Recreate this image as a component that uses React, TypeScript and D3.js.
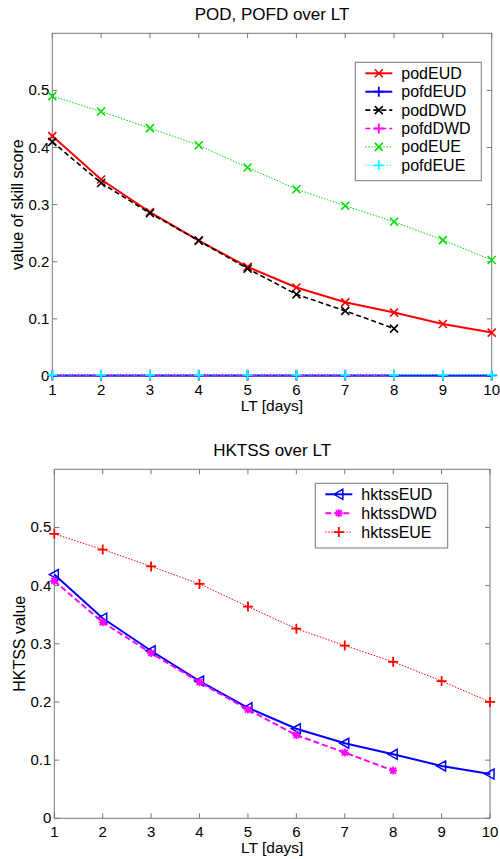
import * as d3 from 'd3';

// Lead times (days)
const leadTimes = [1, 2, 3, 4, 5, 6, 7, 8, 9, 10];
const leadTimesDwd = [1, 2, 3, 4, 5, 6, 7, 8];
const yTicks = [0, 0.1, 0.2, 0.3, 0.4, 0.5];

// Top panel: POD, POFD
const podEUD = [0.42, 0.344, 0.287, 0.237, 0.191, 0.155, 0.129, 0.111, 0.091, 0.076];
const pofdEUD = [0.001, 0.001, 0.001, 0.001, 0.001, 0.001, 0.001, 0.001, 0.001, 0.001];
const podDWD = [0.41, 0.338, 0.285, 0.237, 0.188, 0.143, 0.114, 0.083];
const pofdDWD = [0.002, 0.002, 0.002, 0.002, 0.002, 0.002, 0.002, 0.002];
const podEUE = [0.49, 0.463, 0.434, 0.404, 0.365, 0.327, 0.298, 0.27, 0.238, 0.203];
const pofdEUE = [0.002, 0.002, 0.002, 0.002, 0.002, 0.002, 0.002, 0.002, 0.002, 0.002];

// Bottom panel: HKTSS
const hktssEUD = [0.419, 0.344, 0.288, 0.236, 0.19, 0.154, 0.129, 0.11, 0.09, 0.076];
const hktssDWD = [0.408, 0.337, 0.284, 0.234, 0.187, 0.143, 0.113, 0.082];
const hktssEUE = [0.489, 0.462, 0.433, 0.403, 0.364, 0.326, 0.297, 0.269, 0.236, 0.2];

type Marker = 'x' | '+' | '*' | '<';

type Series = {
  name: string;
  x: number[];
  y: number[];
  color: string;
  width: number;
  dash?: string;
  marker: Marker;
};

const FONT = 'Liberation Sans, Arial, sans-serif';

function MarkerShape({ type, cx, cy, color }: { type: Marker; cx: number; cy: number; color: string }) {
  const s = 4;
  if (type === 'x') {
    return (
      <path d={`M${cx - s},${cy - s}L${cx + s},${cy + s}M${cx - s},${cy + s}L${cx + s},${cy - s}`}
        stroke={color} strokeWidth={1.6} fill="none" />
    );
  }
  if (type === '+') {
    return (
      <path d={`M${cx - 5},${cy}L${cx + 5},${cy}M${cx},${cy - 5}L${cx},${cy + 5}`}
        stroke={color} strokeWidth={1.8} fill="none" />
    );
  }
  if (type === '*') {
    return (
      <path d={`M${cx - s},${cy}L${cx + s},${cy}M${cx},${cy - s}L${cx},${cy + s}M${cx - 3},${cy - 3}L${cx + 3},${cy + 3}M${cx - 3},${cy + 3}L${cx + 3},${cy - 3}`}
        stroke={color} strokeWidth={1.8} fill="none" />
    );
  }
  return (
    <path d={`M${cx - 5},${cy}L${cx + 4},${cy - 5}L${cx + 4},${cy + 5}Z`}
      stroke={color} strokeWidth={1.5} fill="none" />
  );
}

type PanelProps = {
  title: string;
  yLabel: string;
  top: number;
  bottom: number;
  left: number;
  right: number;
  series: Series[];
  legend: { x: number; y: number; w: number; row: number };
};

function Panel({ title, yLabel, top, bottom, left, right, series, legend }: PanelProps) {
  const xScale = d3.scaleLinear().domain([1, 10]).range([left, right]);
  const yScale = d3.scaleLinear().domain([0, 0.6]).range([bottom, top]);
  const line = d3.line<[number, number]>().x(d => xScale(d[0])).y(d => yScale(d[1]));
  const tick = 5;
  const legendH = series.length * legend.row + 8;

  return (
    <g fontFamily={FONT} fill="#000">
      <text x={(left + right) / 2} y={top - 13} textAnchor="middle" fontSize={17}>{title}</text>
      <rect x={left} y={top} width={right - left} height={bottom - top} fill="#fff" stroke="#777" strokeWidth={1} />

      {/* x ticks */}
      {leadTimes.map(t => (
        <g key={`x${t}`}>
          <line x1={xScale(t)} x2={xScale(t)} y1={bottom} y2={bottom - tick} stroke="#777" />
          <line x1={xScale(t)} x2={xScale(t)} y1={top} y2={top + tick} stroke="#777" />
          <text x={xScale(t)} y={bottom + 19} textAnchor="middle" fontSize={15}>{t}</text>
        </g>
      ))}
      <text x={(left + right) / 2} y={bottom + 35} textAnchor="middle" fontSize={15.5}>LT [days]</text>

      {/* y ticks */}
      {yTicks.map(v => (
        <g key={`y${v}`}>
          <line x1={left} x2={left + tick} y1={yScale(v)} y2={yScale(v)} stroke="#777" />
          <line x1={right} x2={right - tick} y1={yScale(v)} y2={yScale(v)} stroke="#777" />
          <text x={left - 3} y={yScale(v) + 5} textAnchor="end" fontSize={15}>{v === 0 ? '0' : v.toFixed(1)}</text>
        </g>
      ))}
      <text transform={`translate(${left - 29},${(top + bottom) / 2}) rotate(-90)`} textAnchor="middle" fontSize={16}>{yLabel}</text>

      {/* series */}
      {series.map(s => {
        const pts = s.x.map((x, i) => [x, s.y[i]] as [number, number]);
        return (
          <g key={s.name}>
            <path d={line(pts) ?? ''} fill="none" stroke={s.color} strokeWidth={s.width} strokeDasharray={s.dash} />
            {pts.map(p => (
              <MarkerShape key={p[0]} type={s.marker} cx={xScale(p[0])} cy={yScale(p[1])} color={s.color} />
            ))}
          </g>
        );
      })}

      {/* legend */}
      <rect x={legend.x} y={legend.y} width={legend.w} height={legendH} fill="#fff" stroke="#777" />
      {series.map((s, i) => {
        const cy = legend.y + 11 + i * legend.row;
        return (
          <g key={`l${s.name}`}>
            <line x1={legend.x + 10} x2={legend.x + 37} y1={cy} y2={cy} stroke={s.color} strokeWidth={s.width} strokeDasharray={s.dash} />
            <MarkerShape type={s.marker} cx={legend.x + 23.5} cy={cy} color={s.color} />
            <text x={legend.x + 46} y={cy + 5.5} fontSize={16}>{s.name}</text>
          </g>
        );
      })}
    </g>
  );
}

const topSeries: Series[] = [
  { name: 'podEUD', x: leadTimes, y: podEUD, color: '#ff0000', width: 2, marker: 'x' },
  { name: 'pofdEUD', x: leadTimes, y: pofdEUD, color: '#0000ff', width: 2, marker: '+' },
  { name: 'podDWD', x: leadTimesDwd, y: podDWD, color: '#000000', width: 1.6, dash: '5,3', marker: 'x' },
  { name: 'pofdDWD', x: leadTimesDwd, y: pofdDWD, color: '#ff00ff', width: 1.6, dash: '5,3', marker: '+' },
  { name: 'podEUE', x: leadTimes, y: podEUE, color: '#00dd00', width: 1, dash: '1.5,1.5', marker: 'x' },
  { name: 'pofdEUE', x: leadTimes, y: pofdEUE, color: '#00ffff', width: 1, dash: '1.5,1.5', marker: '+' },
];

const bottomSeries: Series[] = [
  { name: 'hktssEUD', x: leadTimes, y: hktssEUD, color: '#0000ff', width: 2, marker: '<' },
  { name: 'hktssDWD', x: leadTimesDwd, y: hktssDWD, color: '#ff00ff', width: 2, dash: '6,3', marker: '*' },
  { name: 'hktssEUE', x: leadTimes, y: hktssEUE, color: '#ff0000', width: 1, dash: '1.5,1.5', marker: '+' },
];

export default function App() {
  return (
    <svg width={500} height={859} style={{ position: 'absolute', left: 0, top: 0, background: '#fff' }}>
      <rect width={500} height={859} fill="#fff" />
      <Panel
        title="POD, POFD over LT"
        yLabel="value of skill score"
        top={33.3}
        bottom={376}
        left={52.3}
        right={491.7}
        series={topSeries}
        legend={{ x: 355.3, y: 62.3, w: 126, row: 18.4 }}
      />
      <Panel
        title="HKTSS over LT"
        yLabel="HKTSS value"
        top={469.3}
        bottom={818.3}
        left={54.3}
        right={490}
        series={bottomSeries}
        legend={{ x: 315.3, y: 483.3, w: 132.4, row: 18.9 }}
      />
    </svg>
  );
}
